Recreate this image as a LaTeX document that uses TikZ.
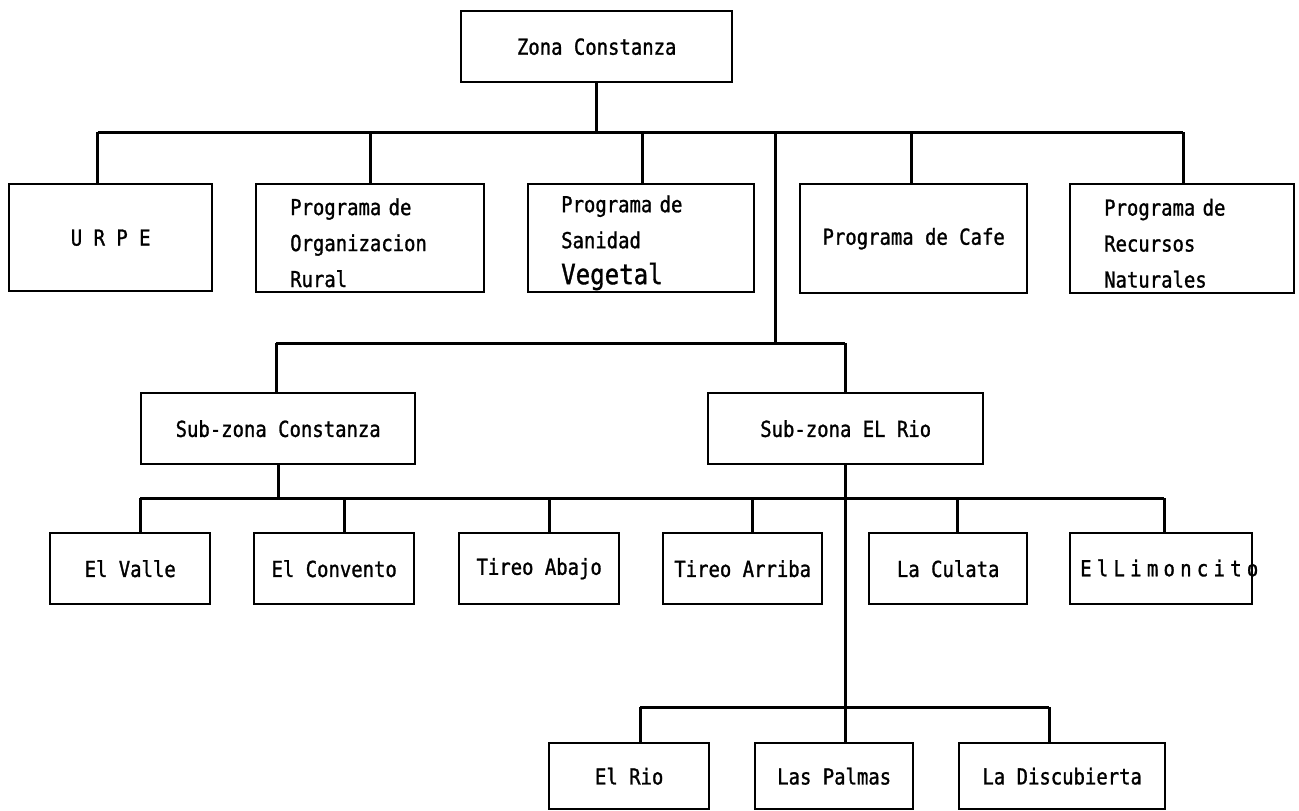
\documentclass[tikz,border=0pt]{standalone}
\usepackage{fontspec}
\newfontfamily\dm{DejaVu Sans Mono}[FakeStretch=0.86,FakeBold=1.2]
\begin{document}
\begin{tikzpicture}[x=1pt,y=-1pt,
  box/.style={draw, line width=2.4pt, anchor=north west, inner sep=0pt, font=\dm\fontsize{22}{36}\selectfont},
  txt/.style={inner sep=0pt, font=\dm\fontsize{22}{36}\selectfont},
  ln/.style={line width=3pt}]
\useasboundingbox (0,0) rectangle (1299,811);
% level 0
\node[box, minimum width=271pt, minimum height=71pt] (top) at (460,10) {Zona Constanza};
% level 1
\node[box, minimum width=203pt, minimum height=107pt] (urpe) at (8,183) {U R P E};
\node[box, minimum width=228pt, minimum height=108pt, text width=160pt, align=left] (org) at (255,183) {\rule{0pt}{26pt}Programa de\\Organizacion\\Rural};
\node[box, minimum width=226pt, minimum height=108pt, text width=160pt, align=left] (san) at (527,183) {\rule{0pt}{26pt}Programa de\\Sanidad\\{\fontsize{28}{36}\selectfont Vegetal}};
\node[box, minimum width=227pt, minimum height=109pt] (cafe) at (799,183) {Programa de Cafe};
\node[box, minimum width=224pt, minimum height=109pt, text width=156pt, align=left] (rec) at (1069,183) {\rule{0pt}{26pt}Programa de\\Recursos\\Naturales};
% level 2
\node[box, minimum width=274pt, minimum height=71pt] (sc) at (140,392) {Sub-zona Constanza};
\node[box, minimum width=275pt, minimum height=71pt] (sr) at (707,392) {Sub-zona EL Rio};
% level 3
\node[box, minimum width=160pt, minimum height=71pt] (valle) at (49,532) {El Valle};
\node[box, minimum width=160pt, minimum height=71pt] (conv) at (253,532) {El Convento};
\node[box, minimum width=160pt, minimum height=71pt] (tab) at (458,532) {Tireo Abajo};
\node[box, minimum width=159pt, minimum height=71pt] (tar) at (662,532) {Tireo Arriba};
\node[box, minimum width=158pt, minimum height=71pt] (cul) at (868,532) {La Culata};
\node[box, minimum width=182pt, minimum height=71pt] (lim) at (1069,532) {};
\node[txt, anchor=west] (limt) at (1080,568) {\addfontfeatures{LetterSpace=24}ElLimoncito};
% level 4
\node[box, minimum width=160pt, minimum height=66pt] (rio) at (548,742) {El Rio};
\node[box, minimum width=158pt, minimum height=66pt] (pal) at (754,742) {Las Palmas};
\node[box, minimum width=206pt, minimum height=66pt] (dis) at (958,742) {La Discubierta};
% bus coordinates
\coordinate (aL) at (97.5,132);
\coordinate (aR) at (1183,132);
\coordinate (dO) at (370,132);
\coordinate (dS) at (642,132);
\coordinate (dC) at (911,132);
\coordinate (dM) at (775,132);
\coordinate (sbL) at (276,343);
\coordinate (sbR) at (845,343);
\coordinate (sbM) at (775,343);
\coordinate (l3L) at (140,498);
\coordinate (l3R) at (1164,498);
\coordinate (e2) at (344,498);
\coordinate (e3) at (549,498);
\coordinate (e4) at (752,498);
\coordinate (e5) at (957,498);
\coordinate (bL) at (640,707);
\coordinate (bR) at (1049,707);
% connectors
\draw[ln] (top.south) -- (top.south |- aL);
\draw[ln] (aL) -- (aR);
\draw[ln] (aL) -- (aL |- urpe.north);
\draw[ln] (dO) -- (dO |- org.north);
\draw[ln] (dS) -- (dS |- san.north);
\draw[ln] (dC) -- (dC |- cafe.north);
\draw[ln] (aR) -- (aR |- rec.north);
\draw[ln] (dM) -- (sbM);
\draw[ln] (sbL) -- (sbR);
\draw[ln] (sbL) -- (sbL |- sc.north);
\draw[ln] (sbR) -- (sbR |- sr.north);
\draw[ln] (sc.south) -- (sc.south |- l3L);
\draw[ln] (l3L) -- (l3R);
\draw[ln] (l3L) -- (l3L |- valle.north);
\draw[ln] (e2) -- (e2 |- conv.north);
\draw[ln] (e3) -- (e3 |- tab.north);
\draw[ln] (e4) -- (e4 |- tar.north);
\draw[ln] (e5) -- (e5 |- cul.north);
\draw[ln] (l3R) -- (l3R |- lim.north);
\draw[ln] (sr.south) -- (sr.south |- pal.north);
\draw[ln] (bL) -- (bR);
\draw[ln] (bL) -- (bL |- rio.north);
\draw[ln] (bR) -- (bR |- dis.north);
\end{tikzpicture}
\end{document}
